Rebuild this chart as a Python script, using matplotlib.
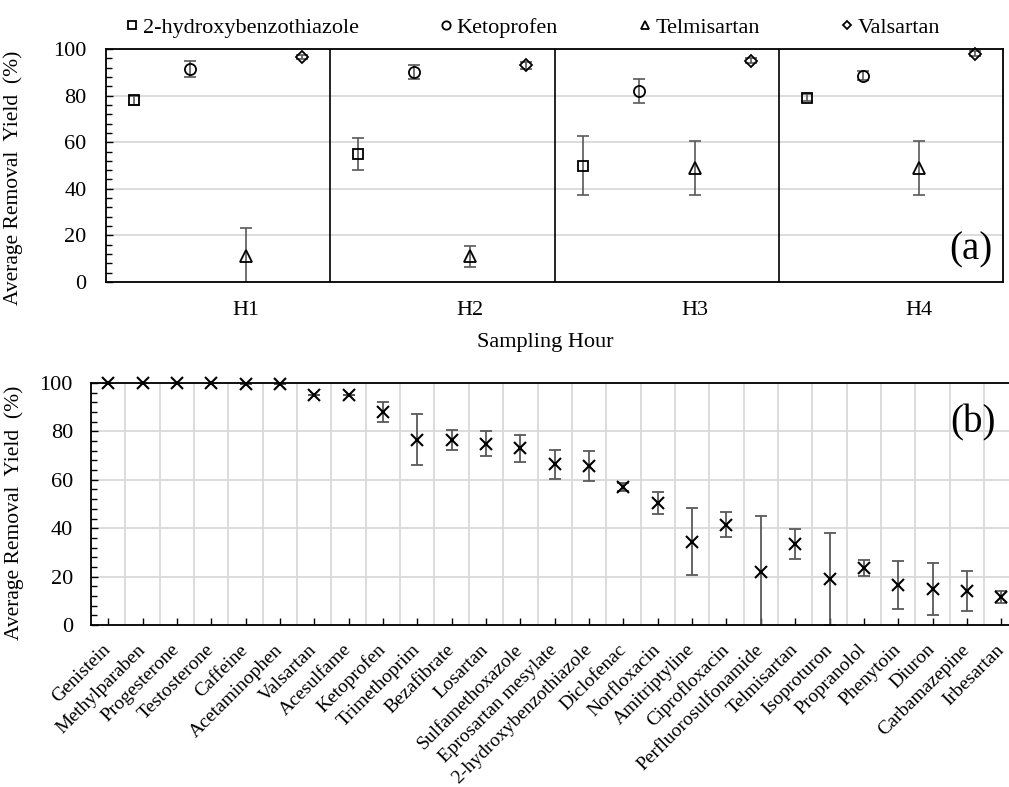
import matplotlib.pyplot as plt
import numpy as np
from matplotlib.ticker import MultipleLocator

plt.rcParams['font.family'] = ['Liberation Serif', 'DejaVu Serif']

# (a) removal per sampling hour for four compounds
hours = ['H1', 'H2', 'H3', 'H4']
hbt_mean = [78, 55, 50, 79]
hbt_err = [2, 7, 12.5, 1.5]
keto_mean = [91.5, 90, 82, 88.5]
keto_err = [3.5, 3, 5, 2]
telmi_mean = [11, 11, 49, 49]
telmi_err = [12, 4.5, 11.5, 11.5]
vals_mean = [96.5, 93, 95, 98]
vals_err = [1, 1.5, 1, 1]

# (b) average removal per compound
compounds = ['Genistein', 'Methylparaben', 'Progesterone', 'Testosterone', 'Caffeine',
             'Acetaminophen', 'Valsartan', 'Acesulfame', 'Ketoprofen', 'Trimethoprim',
             'Bezafibrate', 'Losartan', 'Sulfamethoxazole', 'Eprosartan mesylate',
             '2-hydroxybenzothiazole', 'Diclofenac', 'Norfloxacin', 'Amitriptyline',
             'Ciprofloxacin', 'Perfluorosulfonamide', 'Telmisartan', 'Isoproturon',
             'Propranolol', 'Phenytoin', 'Diuron', 'Carbamazepine', 'Irbesartan']
removal_mean = [100, 100, 100, 100, 99.5, 99.5, 95, 95, 88, 76.5, 76.5, 75, 73, 66.5,
                65.5, 57, 50.5, 34.5, 41.5, 22, 33.5, 19, 23.5, 16.5, 15, 14, 11.5]
removal_err = [0, 0, 0, 0, 0, 0, 0, 0, 4, 10.5, 4, 5, 5.5, 6, 6.2, 1.5, 4.5, 14, 5,
               23, 6.2, 19, 3.4, 10, 10.8, 8.4, 2.6]

W, H = 1009, 787
fig = plt.figure(figsize=(W / 100, H / 100), dpi=100)

grid_col = '#d9d9d9'
err_col = '#595959'

# ---------- panel (a) ----------
ax1 = fig.add_axes([106 / W, 1 - 282 / H, 897 / W, 233 / H])
series = [
    ('2-hydroxybenzothiazole', hbt_mean, hbt_err, 's', 7.5),
    ('Ketoprofen', keto_mean, keto_err, 'o', 8),
    ('Telmisartan', telmi_mean, telmi_err, '^', 8.5),
    ('Valsartan', vals_mean, vals_err, 'D', 6),
]
for j, (name, mean, err, mk, ms) in enumerate(series):
    x = np.arange(len(hours)) + (j + 0.5) / 4
    ax1.errorbar(x, mean, yerr=err, fmt='none', ecolor=err_col, elinewidth=1.2,
                 capsize=4, capthick=1.2, zorder=2)
    ax1.plot(x, mean, linestyle='none', marker=mk, ms=ms, mfc='none', mec='black',
             mew=1.3, label=name, clip_on=False, zorder=3)

for k in range(1, len(hours)):
    ax1.axvline(k, color='black', lw=1.2, zorder=2)

ax1.set_xlim(0, len(hours))
ax1.set_ylim(0, 100)
ax1.set_xticks(np.arange(len(hours)) + 0.625)
ax1.set_xticklabels(hours)
ax1.tick_params(axis='x', length=0, pad=14, labelsize=16)
ax1.yaxis.set_major_locator(MultipleLocator(20))
ax1.yaxis.set_minor_locator(MultipleLocator(4))
ax1.tick_params(axis='y', which='both', direction='in', labelsize=16, pad=14)
ax1.tick_params(axis='y', which='major', length=5, width=1)
ax1.tick_params(axis='y', which='minor', length=4, width=1)
ax1.grid(axis='y', color=grid_col, lw=1.3)
ax1.set_axisbelow(True)
for sp in ax1.spines.values():
    sp.set_linewidth(1.3)
ax1.set_ylabel('Average Removal  Yield  (%)', fontsize=15.5)
ax1.yaxis.set_label_coords((23 - 106) / 897, (282 - 178) / 233)

ax1.legend(loc='lower center', bbox_to_anchor=(0.476, 1.0), ncol=4, frameon=False,
           fontsize=16, markerscale=0.75, handlelength=0.6, handletextpad=0.2,
           columnspacing=3.6, borderaxespad=0.1)
fig.text(971 / W, 1 - 250 / H, '(a)', fontsize=28, ha='center', va='center')
fig.text(545 / W, 1 - 342 / H, 'Sampling Hour', fontsize=16, ha='center', va='center')

# ---------- panel (b) ----------
n = len(compounds)
ax2 = fig.add_axes([91 / W, 1 - 625 / H, (34.35 * n) / W, 242 / H])
xb = np.arange(n)
ax2.errorbar(xb, removal_mean, yerr=removal_err, fmt='none', ecolor=err_col,
             elinewidth=1.3, capsize=4.5, capthick=1.3, zorder=2)
ax2.plot(xb, removal_mean, linestyle='none', marker='x', ms=8.5, mec='black', mew=1.5,
         clip_on=False, zorder=3)

ax2.set_xlim(-0.5, n - 0.5)
ax2.set_ylim(0, 100)
ax2.set_xticks(xb)
ax2.set_xticklabels(compounds, rotation=45, ha='right', va='center',
                    rotation_mode='anchor', fontsize=14)
ax2.set_xticks(np.arange(n + 1) - 0.5, minor=True)
ax2.tick_params(axis='x', which='major', direction='in', length=5, width=1, pad=16)
ax2.tick_params(axis='x', which='minor', length=0)
ax2.yaxis.set_major_locator(MultipleLocator(20))
ax2.yaxis.set_minor_locator(MultipleLocator(4))
ax2.tick_params(axis='y', which='both', direction='in', labelsize=16, pad=13)
ax2.tick_params(axis='y', which='major', length=5, width=1)
ax2.tick_params(axis='y', which='minor', length=4, width=1)
ax2.grid(axis='y', which='major', color=grid_col, lw=1.3)
ax2.grid(axis='x', which='minor', color=grid_col, lw=1.3)
ax2.set_axisbelow(True)
for sp in ax2.spines.values():
    sp.set_linewidth(1.3)
ax2.set_ylabel('Average Removal  Yield  (%)', fontsize=15.5)
ax2.yaxis.set_label_coords((24 - 91) / (34.35 * n), (625 - 513) / 242)
fig.text(973 / W, 1 - 423 / H, '(b)', fontsize=28, ha='center', va='center')

fig.savefig('out.png', dpi=100)
